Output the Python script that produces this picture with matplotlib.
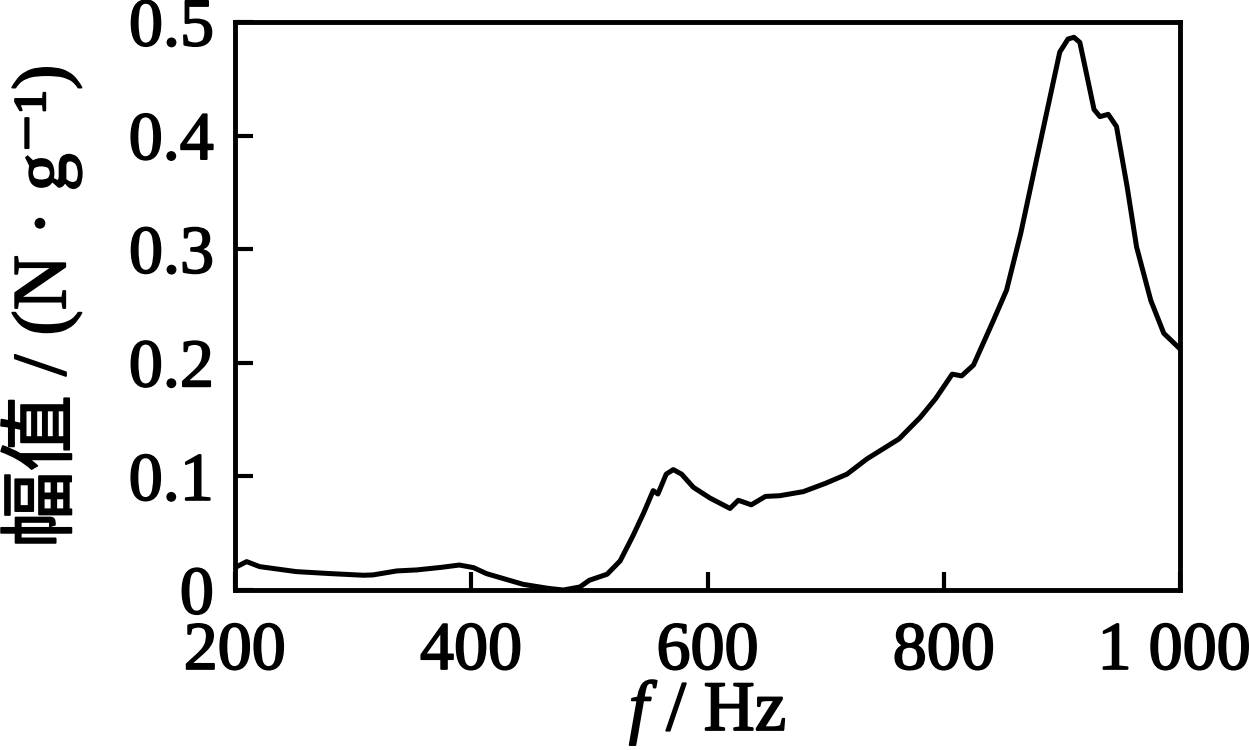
import matplotlib
matplotlib.use('Agg')
import matplotlib.pyplot as plt
import matplotlib.patheffects as pe
import matplotlib.transforms as mtransforms

# valores
freq = [200, 210, 221, 252, 280, 309, 317, 337, 354, 375, 390, 402, 413, 444,
        465, 478, 492, 500, 515, 526, 537, 546, 554, 558, 565, 571, 578, 588,
        602, 619, 626, 637, 649, 661, 681, 700, 718, 735, 762, 780, 793, 807,
        815, 825, 842, 853, 865, 879, 890, 898, 905, 910, 915, 921, 927, 932,
        939, 946, 955, 963, 975, 986, 1000]
amp = [0.0197, 0.025, 0.0206, 0.0162, 0.0145, 0.013, 0.0133, 0.0168, 0.0177,
       0.020, 0.022, 0.0197, 0.0144, 0.005, 0.0015, 0.0, 0.0027, 0.0086,
       0.0139, 0.0256, 0.048, 0.068, 0.0875, 0.0845, 0.102, 0.106, 0.102,
       0.0904, 0.081, 0.0718, 0.079, 0.075, 0.0824, 0.083, 0.0866, 0.094,
       0.102, 0.1155, 0.133, 0.152, 0.1685, 0.19, 0.1885, 0.198, 0.2376,
       0.264, 0.314, 0.382, 0.435, 0.4735, 0.485, 0.4865, 0.482, 0.4526,
       0.423, 0.4167, 0.4187, 0.408, 0.355, 0.302, 0.255, 0.226, 0.212]

xticks = [200, 400, 600, 800, 1000]
xtick_labels = ['200', '400', '600', '800', '1 000']
yticks = [0, 0.1, 0.2, 0.3, 0.4, 0.5]
ytick_labels = ['0', '0.1', '0.2', '0.3', '0.4', '0.5']

plt.rcParams['font.family'] = ['Liberation Serif', 'Noto Sans CJK SC', 'DejaVu Serif']
plt.rcParams['mathtext.fontset'] = 'custom'
plt.rcParams['mathtext.rm'] = 'Liberation Serif'
plt.rcParams['mathtext.it'] = 'Liberation Serif:italic'

fig = plt.figure(figsize=(12.49, 7.5), dpi=100)
ax = fig.add_axes([0.188, 0.2133, 0.757, 0.7574])

ax.plot(freq, amp, color='black', linewidth=3.6)

ax.set_xlim(200, 1000)
ax.set_ylim(0, 0.5)
ax.set_xticks(xticks)
ax.set_xticklabels(xtick_labels)
ax.set_yticks(yticks)
ax.set_yticklabels(ytick_labels)

for s in ax.spines.values():
    s.set_linewidth(3.5)
ax.tick_params(direction='in', length=13, width=3, labelsize=49)
ax.tick_params(axis='x', pad=23)
ax.tick_params(axis='y', pad=15)

# traço um pouco mais grosso, como na figura original
grosso = [pe.withStroke(linewidth=1.3, foreground='black')]
for lab in ax.get_xticklabels() + ax.get_yticklabels():
    lab.set_path_effects(grosso)

# "1 000" um pouco para a esquerda para caber na figura
ultimo = ax.get_xticklabels()[-1]
ultimo.set_transform(ultimo.get_transform() +
                     mtransforms.ScaledTranslation(-6 / 100, 0, fig.dpi_scale_trans))

xl = ax.set_xlabel(r'$f$ / Hz', fontsize=51, labelpad=-4)
yl = ax.set_ylabel('幅值 / (N · g⁻¹)', fontsize=55, labelpad=34)
xl.set_path_effects(grosso)
yl.set_path_effects(grosso)

fig.savefig('out.png', dpi=100)
